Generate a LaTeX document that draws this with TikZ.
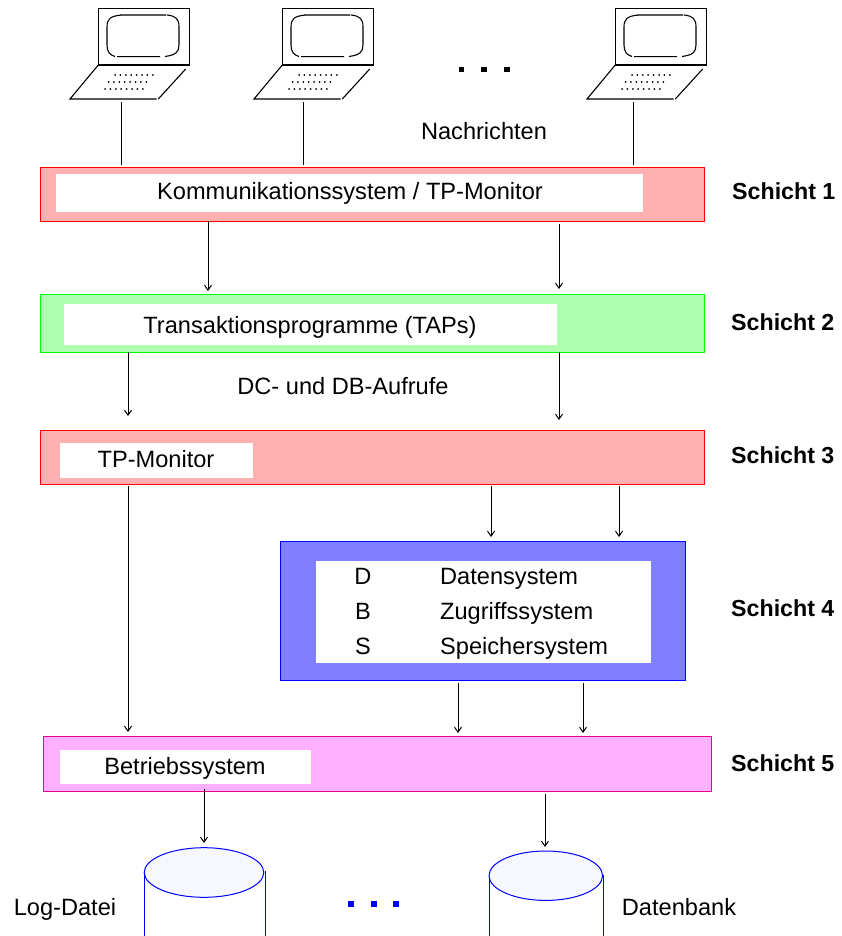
\documentclass[tikz,border=0pt]{standalone}
\usepackage{fontspec}
\setmainfont{Liberation Sans}
\usetikzlibrary{arrows.meta}
\definecolor{schichtrot}{RGB}{255,176,176}
\definecolor{schichtgruen}{RGB}{176,255,176}
\definecolor{schichtblau}{RGB}{128,128,255}
\definecolor{schichtlila}{RGB}{255,176,255}
\definecolor{zylinder}{RGB}{247,247,255}
\tikzset{
  schicht/.style={draw=#1,line width=1.2pt,anchor=north west,inner sep=0pt},
  weiss/.style={fill=white,anchor=north west,inner sep=0pt},
  txt/.style={font=\fontsize{23.6}{26}\selectfont,inner sep=0pt,text height=16pt,text depth=0pt},
  label/.style={font=\fontsize{23.2}{26}\selectfont\bfseries,inner sep=0pt,anchor=west,text height=16pt,text depth=0pt},
  pfeil/.style={-{Straight Barb[length=5pt,width=7pt]},line width=1pt},
  rechner/.pic={
    \begin{scope}[line width=1.1pt]
    \draw (98.3,65) rectangle (189.3,8.3);
    \draw (120,15) -- (166,15) (167,15) .. controls (176,16) and (179,19) .. (179,27)
      -- (179,45) .. controls (179,52) and (176,55) .. (165,56.5)
      (160,56.7) -- (117,56.7) (115,56.5) .. controls (110,55) and (107,52) .. (107,45)
      -- (107,27) .. controls (107,19) and (110,16) .. (122,15);
    \draw (98.3,65) -- (70,99) -- (156.7,99) (158.3,99) -- (185.7,69);
    \end{scope}
    \foreach \x in {0,...,7} {
      \fill (115+\x*5.4,75) circle (1);
      \fill (108.5+\x*5.4,82) circle (1);
      \fill (105+\x*5.4,89) circle (1);
    }
  }
}
\begin{document}
\begin{tikzpicture}[x=1pt,y=-1pt]
\useasboundingbox (0,0) rectangle (841,936);
% rechner
\pic at (0,0) {rechner};
\pic at (184,0) {rechner};
\pic at (517,0) {rechner};
\foreach \x in {461.3,484,506.7} \fill (\x-2.8,67) rectangle (\x+2.8,72.5);
\coordinate (r1) at (121,102); \coordinate (k1) at (121,165);
\coordinate (r2) at (303,102); \coordinate (k2) at (303,165);
\coordinate (r3) at (633,102); \coordinate (k3) at (633,165);
\draw[line width=1pt] (r1) -- (k1);
\draw[line width=1pt] (r2) -- (k2);
\draw[line width=1pt] (r3) -- (k3);
\node[txt] (nachr) at (484,132) {Nachrichten};
% schicht 1
\node[schicht=red,fill=schichtrot,minimum width=664pt,minimum height=54pt] (s1) at (40,167) {};
\node[weiss,minimum width=587pt,minimum height=38pt] (w1) at (56,174) {};
\node[txt] (t1) at (350,192) {Kommunikationssystem / TP-Monitor};
\node[label] (l1) at (732,192) {Schicht 1};
% schicht 2
\node[schicht=green,fill=schichtgruen,minimum width=664pt,minimum height=58pt] (s2) at (40,294) {};
\node[weiss,minimum width=493pt,minimum height=41pt] (w2) at (64,304) {};
\node[txt] (t2) at (310,325) {Transaktionsprogramme (TAPs)};
\node[label] (l2) at (731,322) {Schicht 2};
\node[txt] (dc) at (343,386) {DC- und DB-Aufrufe};
% schicht 3
\node[schicht=red,fill=schichtrot,minimum width=664pt,minimum height=54pt] (s3) at (40,430) {};
\node[weiss,minimum width=193pt,minimum height=35pt] (w3) at (60,443) {};
\node[txt] (t3) at (156,459) {TP-Monitor};
\node[label] (l3) at (731,455) {Schicht 3};
% schicht 4
\node[schicht=blue,fill=schichtblau,minimum width=405pt,minimum height=139pt] (s4) at (280,541) {};
\node[weiss,minimum width=335pt,minimum height=102pt] (w4) at (316,561) {};
\node[txt] (d) at (363,576) {D};
\node[txt] (b) at (363,611) {B};
\node[txt] (s) at (363,646) {S};
\node[txt,anchor=west] (t4a) at (440,576) {Datensystem};
\node[txt,anchor=west] (t4b) at (440,611) {Zugriffssystem};
\node[txt,anchor=west] (t4c) at (440,646) {Speichersystem};
\node[label] (l4) at (731,608) {Schicht 4};
% schicht 5
\node[schicht=magenta,fill=schichtlila,minimum width=668pt,minimum height=55pt] (s5) at (43,736) {};
\node[weiss,minimum width=251pt,minimum height=34pt] (w5) at (60,750) {};
\node[txt] (t5) at (185,766) {Betriebssystem};
\node[label] (l5) at (731,763) {Schicht 5};
% pfeile
\foreach \a/\b/\c/\d/\x in {a1/a2/221/291/208,b1/b2/224/289/559,c1/c2/352/416/128,d1/d2/352/420/559,e1/e2/486/732/128,f1/f2/486/537/491,g1/g2/486/537/619,h1/h2/683/733/458,i1/i2/683/733/583,j1/j2/789/843/204,m1/m2/794/847/545} {
  \coordinate (\a) at (\x,\c);
  \coordinate (\b) at (\x,\d);
  \draw[pfeil] (\a) -- (\b);
}
% speicher
\draw[blue,line width=1pt] (144.5,872) -- (144.5,936) (265.5,871) -- (265.5,936);
\draw[blue,line width=1pt] (489,875) -- (489,936) (603,875) -- (603,936);
\draw[blue,fill=zylinder,line width=1pt] (204,872.5) ellipse (59.8 and 24.8);
\draw[blue,fill=zylinder,line width=1pt] (545.8,875.7) ellipse (56.8 and 24.7);
\foreach \x in {351,373.5,396} \fill[blue] (\x-3,901) rectangle (\x+3,907);
\node[txt] (log) at (65,907) {Log-Datei};
\node[txt] (dat) at (679,907) {Datenbank};
\end{tikzpicture}
\end{document}
